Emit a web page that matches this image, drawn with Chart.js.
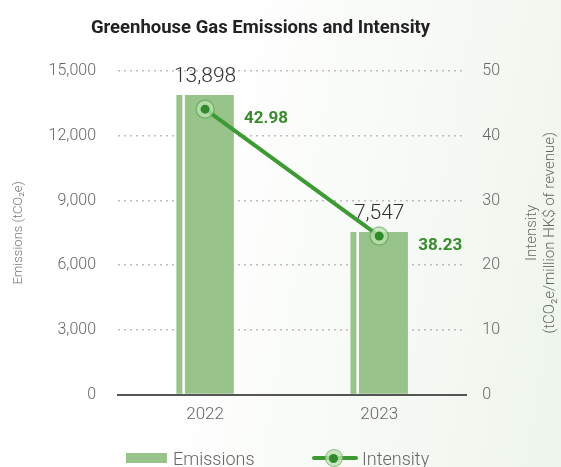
<!DOCTYPE html>
<html>
<head>
<meta charset="utf-8">
<script src="https://cdn.jsdelivr.net/npm/chart.js@4"></script>
<style>
  body { margin: 0; background: linear-gradient(100deg, #ffffff 35%, #eef5ec 100%); font-family: Roboto, sans-serif; }
  #wrap { position: relative; width: 561px; height: 467px; overflow: hidden; }
  #legend { position: absolute; top: 446px; left: 0; width: 561px; height: 24px; font-size: 18px; font-weight: 300; color: #666; }
  .item { position: absolute; top: 0; display: flex; align-items: center; height: 24px; }
  .box { width: 41px; height: 10px; background: #98c38a; margin-right: 6px; }
  .lineKey { position: relative; width: 46px; height: 20px; margin-right: 4px; }
  .lineKey .bar { position: absolute; left: 0; top: 8px; width: 46px; height: 4px; background: #3d9a35; border-radius: 2px; }
  .lineKey .ring { position: absolute; left: 13px; top: 1px; width: 16px; height: 16px; border-radius: 50%; background: rgba(190,225,180,0.8); border: 1.5px solid rgba(61,154,53,0.5); }
  .lineKey .dot { position: absolute; left: 17px; top: 6px; width: 9px; height: 9px; border-radius: 50%; background: #2f8a2a; }
</style>
</head>
<body>
<div id="wrap">
  <canvas id="chart" width="561" height="467"></canvas>
  <div id="legend">
    <div class="item" style="left:126px"><span class="box"></span>Emissions</div>
    <div class="item" style="left:312px"><span class="lineKey"><span class="bar"></span><span class="ring"></span><span class="dot"></span></span>Intensity</div>
  </div>
</div>
<script>
// Data
const categories = ['2022', '2023'];
const emissions = [13898, 7547];
const intensity = [42.98, 38.23];
const emissionTicks = [0, 3000, 6000, 9000, 12000, 15000];
const intensityTicks = [0, 10, 20, 30, 40, 50];

Chart.defaults.font.family = 'Roboto, sans-serif';

const green = '#3d9a35';
const barGreen = '#98c38a';

const decor = {
    id: 'decor',
    afterDatasetDraw(chart, args) {
        if (args.index !== 0) return;
        const ctx = chart.ctx;
        ctx.save();
        args.meta.data.forEach((bar, i) => {
            // thin white stripe near left edge
            ctx.fillStyle = '#ffffff';
            ctx.fillRect(bar.x - bar.width / 2 + 6, bar.y, 2.5, bar.base - bar.y);
            // value label
            ctx.fillStyle = '#333';
            ctx.font = '300 21px Roboto, sans-serif';
            ctx.textAlign = 'center';
            ctx.textBaseline = 'middle';
            ctx.fillText(emissions[i].toLocaleString('en-US'), bar.x, bar.y - 18);
        });
        ctx.restore();
    },
    afterDatasetsDraw(chart) {
        const ctx = chart.ctx;
        const meta = chart.getDatasetMeta(1);
        ctx.save();
        meta.data.forEach((pt, i) => {
            ctx.beginPath();
            ctx.arc(pt.x, pt.y, 4.5, 0, Math.PI * 2);
            ctx.fillStyle = '#2f8a2a';
            ctx.fill();
            ctx.fillStyle = '#3a8a30';
            ctx.font = 'bold 17px Roboto, sans-serif';
            ctx.textAlign = 'left';
            ctx.textBaseline = 'middle';
            ctx.fillText(intensity[i].toFixed(2), pt.x + 39, pt.y + 10);
        });
        // right axis title (reads bottom to top)
        const area = chart.chartArea;
        const cy = (area.top + area.bottom) / 2;
        ctx.translate(541, cy);
        ctx.rotate(-Math.PI / 2);
        ctx.fillStyle = '#666';
        ctx.font = '300 15px Roboto, sans-serif';
        ctx.textAlign = 'center';
        ctx.textBaseline = 'middle';
        ctx.fillText('Intensity', 0, -9);
        ctx.fillText('(tCO\u2082e/million HK$ of revenue)', 0, 9);
        ctx.restore();
    }
};

new Chart(document.getElementById('chart'), {
    data: {
        labels: categories,
        datasets: [{
            type: 'bar',
            label: 'Emissions',
            data: emissions,
            backgroundColor: barGreen,
            borderWidth: 0,
            barPercentage: 0.33,
            categoryPercentage: 1,
            yAxisID: 'y',
            order: 1
        }, {
            type: 'line',
            label: 'Intensity',
            data: intensity,
            borderColor: green,
            borderWidth: 4,
            pointRadius: 9,
            pointBorderWidth: 1.5,
            pointBorderColor: 'rgba(61,154,53,0.5)',
            pointBackgroundColor: 'rgba(190,225,180,0.75)',
            yAxisID: 'yLine',
            order: 0
        }]
    },
    options: {
        responsive: false,
        animation: false,
        layout: { padding: { left: 5, right: 45, top: 0, bottom: 32 } },
        plugins: {
            legend: { display: false },
            tooltip: { enabled: false },
            title: {
                display: true,
                text: 'Greenhouse Gas Emissions and Intensity',
                color: '#222',
                font: { size: 18.5, weight: 'bold' },
                padding: { top: 17, bottom: 32 }
            }
        },
        scales: {
            x: {
                grid: { display: false, drawTicks: false },
                border: { color: '#555', width: 2 },
                ticks: { color: '#666', font: { size: 17, weight: '300' }, padding: 10 }
            },
            y: {
                position: 'left',
                min: 0,
                max: 15000,
                afterBuildTicks: (s) => { s.ticks = emissionTicks.map(v => ({ value: v })); },
                grid: { color: '#bdbdbd', lineWidth: 1.5, drawTicks: false },
                border: { display: false, dash: [2, 4] },
                ticks: { color: '#666', font: { size: 16, weight: '300' }, padding: 22,
                         callback: v => v.toLocaleString('en-US') },
                title: { display: true, text: 'Emissions (tCO\u2082e)', color: '#777',
                         font: { size: 13, weight: '300' }, padding: { top: 6, bottom: 0 } }
            },
            yRight: {
                position: 'right',
                min: 0,
                max: 50,
                afterBuildTicks: (s) => { s.ticks = intensityTicks.map(v => ({ value: v })); },
                grid: { display: false, drawTicks: false },
                border: { display: false },
                ticks: { color: '#666', font: { size: 16, weight: '300' }, padding: 16 }
            },
            yLine: {
                display: false,
                min: 32.3,
                max: 44.4
            }
        }
    },
    plugins: [decor]
});
</script>
</body>
</html>
